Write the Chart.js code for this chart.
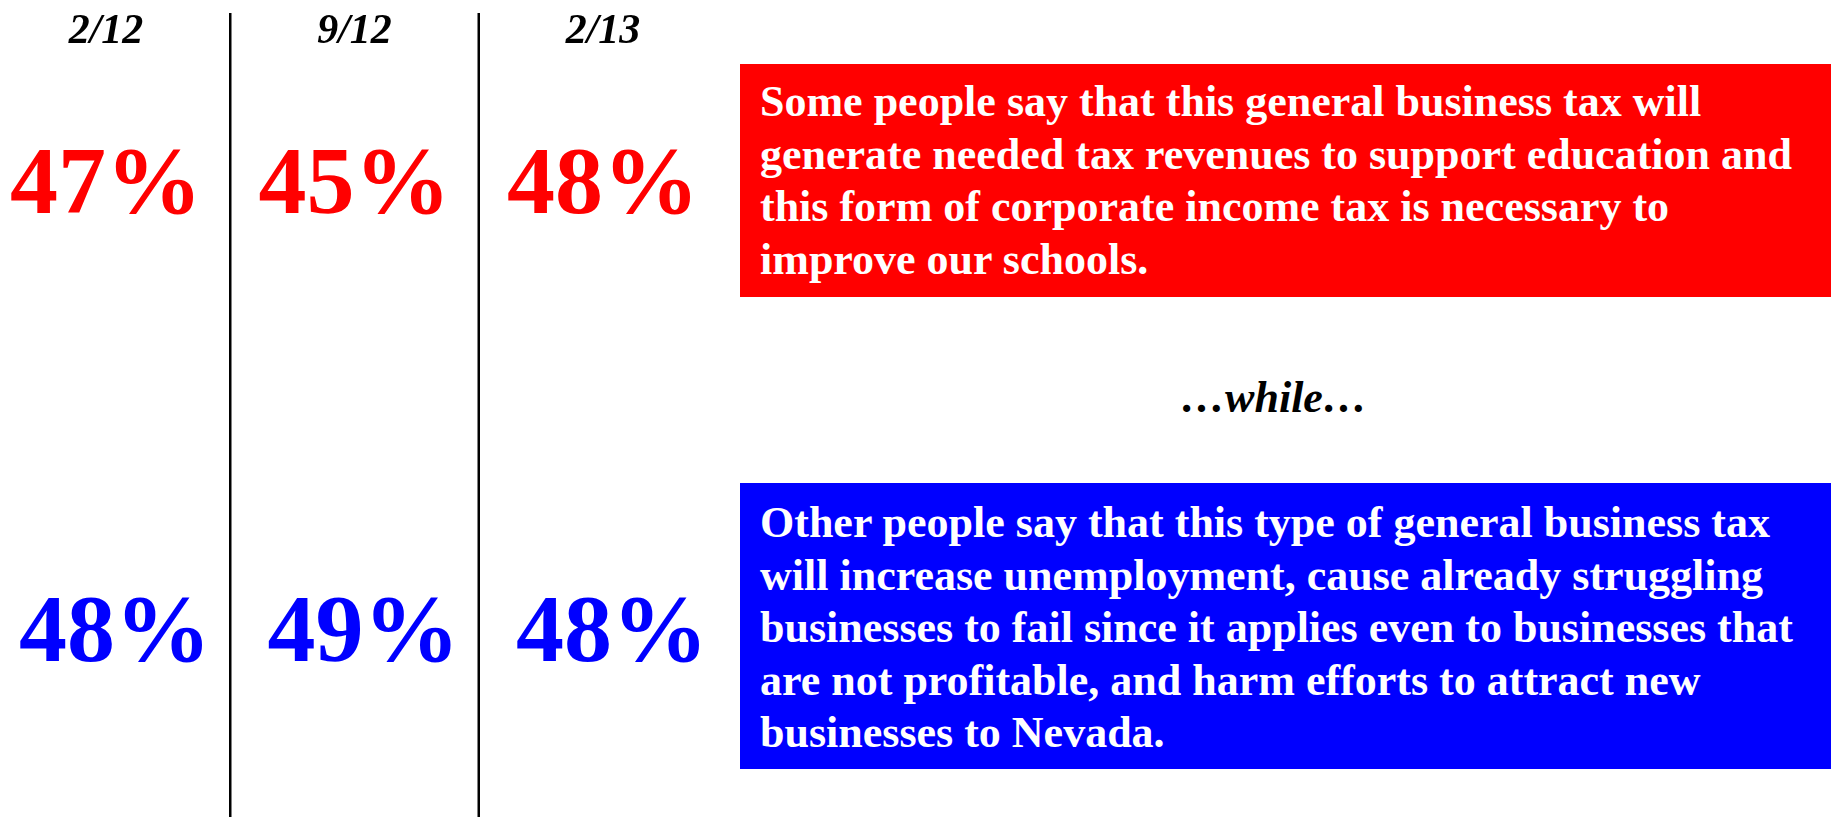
<!DOCTYPE html>
<html>
<head>
<meta charset="utf-8">
<script src="https://cdn.jsdelivr.net/npm/chart.js@4.4.1/dist/chart.umd.min.js"></script>
<style>
  html, body { margin: 0; padding: 0; background: #fff; }
  body { width: 1831px; height: 817px; position: relative; overflow: hidden;
         font-family: "Liberation Serif", "Times New Roman", serif; }
  #wrap { position: absolute; left: 0; top: 0; width: 740px; height: 817px; }
  .box { position: absolute; left: 740px; width: 1071px; padding-left: 20px; color: #fff;
         font-weight: bold; font-size: 44px; line-height: 52.5px; white-space: nowrap; box-sizing: content-box; }
  .box div { height: 52.5px; }
  #pro { top: 64px; height: 221px; padding-top: 12px; background: #ff0000; }
  #con { top: 483px; height: 272px; padding-top: 14px; background: #0000ff; }
  #while { position: absolute; left: 1274px; top: 372px; transform: translateX(-50%);
           font-size: 44px; line-height: 52.5px; font-weight: bold; font-style: italic; color: #000; white-space: nowrap; }
</style>
</head>
<body>
<div id="wrap"><canvas id="myChart" width="740" height="817"></canvas></div>

<div class="box" id="pro">
  <div>Some people say that this general business tax will</div>
  <div>generate needed tax revenues to support education and</div>
  <div>this form of corporate income tax is necessary to</div>
  <div>improve our schools.</div>
</div>
<div id="while">…while…</div>
<div class="box" id="con">
  <div>Other people say that this type of general business tax</div>
  <div>will increase unemployment, cause already struggling</div>
  <div>businesses to fail since it applies even to businesses that</div>
  <div>are not profitable, and harm efforts to attract new</div>
  <div>businesses to Nevada.</div>
</div>

<script>
// poll dates and results (%)
const dates = ['2/12', '9/12', '2/13'];
const supportPct = [47, 45, 48];
const opposePct = [48, 49, 48];

// row heights on a 0..100 scale (top to bottom)
const HEADER_ROW = 5.3;
const SUPPORT_ROW = 26.1;
const OPPOSE_ROW = 80.9;

const serif = '"Liberation Serif", "Times New Roman", serif';

const rowOf = (y) => dates.map((d, i) => ({ x: i, y: y }));

// draws each point's text where the scale put the point
const textLabels = {
  id: 'textLabels',
  afterDatasetsDraw(chart) {
    const ctx = chart.ctx;
    chart.data.datasets.forEach((ds, i) => {
      chart.getDatasetMeta(i).data.forEach((pt, j) => {
        ctx.save();
        ctx.font = ds.font;
        ctx.fillStyle = ds.color;
        ctx.textAlign = 'center';
        ctx.textBaseline = 'alphabetic';
        ctx.fillText(ds.text[j], pt.x + (ds.shift || 0), pt.y);
        ctx.restore();
      });
    });
  }
};

// vertical rules between the poll columns
const separators = {
  id: 'separators',
  beforeDatasetsDraw(chart) {
    const { ctx, scales: { x }, chartArea } = chart;
    ctx.save();
    ctx.strokeStyle = '#000';
    ctx.lineWidth = 2.5;
    for (let i = 0; i < dates.length - 1; i++) {
      const px = x.getPixelForValue(i + 0.5);
      ctx.beginPath();
      ctx.moveTo(px, 13);
      ctx.lineTo(px, chartArea.bottom);
      ctx.stroke();
    }
    ctx.restore();
  }
};

const chart = new Chart('myChart', {
  type: 'scatter',
  data: {
    datasets: [
      {
        label: 'Date',
        data: rowOf(HEADER_ROW),
        text: dates,
        font: 'italic bold 42px ' + serif,
        color: '#000'
      },
      {
        label: 'Support',
        data: rowOf(SUPPORT_ROW),
        text: supportPct.map(v => v + '%'),
        font: 'bold 96px ' + serif,
        color: '#ff0000'
      },
      {
        label: 'Oppose',
        data: rowOf(OPPOSE_ROW),
        text: opposePct.map(v => v + '%'),
        font: 'bold 96px ' + serif,
        shift: 9,
        color: '#0000ff'
      }
    ]
  },
  options: {
    responsive: false,
    animation: false,
    events: [],
    layout: { padding: 0 },
    elements: { point: { radius: 0, hoverRadius: 0 } },
    scales: {
      x: { type: 'linear', display: false, min: -106 / 248.5, max: 634 / 248.5 },
      y: { type: 'linear', display: false, min: 0, max: 100, reverse: true }
    },
    plugins: {
      legend: { display: false },
      tooltip: { enabled: false }
    }
  },
  plugins: [separators, textLabels]
});
</script>
</body>
</html>
